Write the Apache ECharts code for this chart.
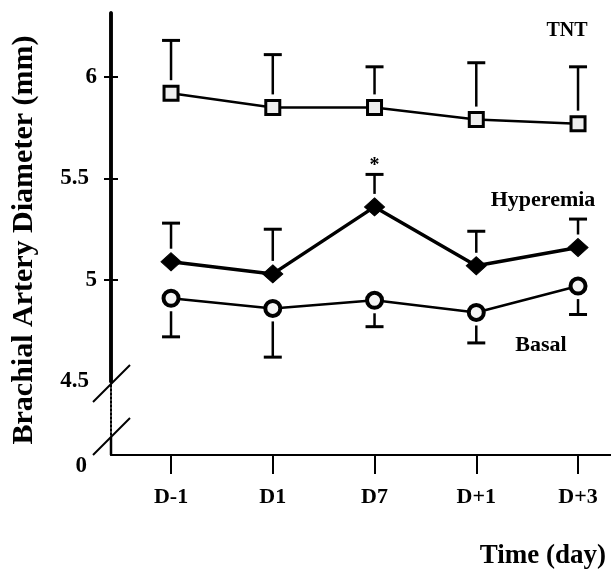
<!DOCTYPE html>
<html>
<head>
<meta charset="utf-8">
<script src="https://cdn.jsdelivr.net/npm/echarts@6/dist/echarts.min.js"></script>
<style>
  html, body { margin: 0; padding: 0; background: #fff; }
  #chart { width: 611px; height: 572px; }
</style>
</head>
<body>
<div id="chart"></div>
<script>
// categories and values
var days = ['D-1', 'D1', 'D7', 'D+1', 'D+3'];
var tntMean = [5.92, 5.85, 5.85, 5.79, 5.77];
var tntTop = [6.18, 6.11, 6.05, 6.07, 6.05];
var hypMean = [5.09, 5.03, 5.36, 5.07, 5.16];
var hypTop = [5.28, 5.25, 5.52, 5.24, 5.30];
var hypSig = ['', '', '*', '', ''];
var basMean = [4.91, 4.86, 4.90, 4.84, 4.97];
var basBottom = [4.72, 4.62, 4.77, 4.69, 4.83];
var yTicks = [5, 5.5, 6];
var yLabels = [4.5, 5, 5.5, 6];

var FONT = "'Liberation Serif', 'Times New Roman', serif";
var idx = days.map(function (d, i) { return i; });

function pairs(vals) {
  return vals.map(function (v, i) { return [i, v]; });
}
function errData(mean, end, sig) {
  return mean.map(function (m, i) { return [i, m, end[i], sig ? sig[i] : '']; });
}

function renderErr(params, api) {
  var x = api.value(0);
  var p0 = api.coord([x, api.value(1)]);
  var p1 = api.coord([x, api.value(2)]);
  var dir = p1[1] < p0[1] ? -1 : 1;
  var st = { stroke: '#000', lineWidth: 2.5 };
  var kids = [
    { type: 'line', shape: { x1: p0[0], y1: p0[1] + dir * 13, x2: p0[0], y2: p1[1] }, style: st },
    { type: 'line', shape: { x1: p0[0] - 9, y1: p1[1], x2: p0[0] + 9, y2: p1[1] }, style: { stroke: '#000', lineWidth: 3 } }
  ];
  var s = api.value(3);
  if (s) {
    kids.push({ type: 'text', x: p0[0], y: p1[1] + 1, style: { text: s, font: 'bold 20px ' + FONT, fill: '#000', align: 'center', verticalAlign: 'bottom' } });
  }
  return { type: 'group', children: kids };
}

var chart = echarts.init(document.getElementById('chart'));
var xMin = -0.59, xMax = 4.324;

var tickAxisBase = {
  type: 'value', gridIndex: 0, min: 4.5, max: 6.315, position: 'left',
  splitLine: { show: false },
  axisLine: { show: true, onZero: false, lineStyle: { color: '#000', width: 3.5 } }
};

chart.setOption({
  animation: false,
  backgroundColor: '#fff',
  title: {
    text: 'Time (day)', right: 0, top: 538,
    textStyle: { fontFamily: FONT, fontWeight: 'bold', fontSize: 27, color: '#000' }
  },
  grid: [
    { left: 111, right: 0, top: 13, height: 368.5 },
    { left: 111, right: 0, top: 381.5, height: 73.5 }
  ],
  xAxis: [
    { type: 'value', gridIndex: 0, min: xMin, max: xMax, show: false },
    {
      type: 'value', gridIndex: 1, min: xMin, max: xMax,
      splitLine: { show: false },
      axisLine: { show: true, onZero: false, lineStyle: { color: '#000', width: 2 } },
      axisTick: { show: true, length: 19, customValues: idx, lineStyle: { color: '#000', width: 2 } },
      axisLabel: {
        customValues: idx, margin: 31,
        formatter: function (v) { return days[v]; },
        fontFamily: FONT, fontWeight: 'bold', fontSize: 22, color: '#000'
      }
    }
  ],
  yAxis: [
    Object.assign({}, tickAxisBase, {
      axisTick: { show: true, length: 7, customValues: yTicks, lineStyle: { color: '#000', width: 2 } },
      axisLabel: {
        customValues: yLabels, margin: 14,
        formatter: function (v) { return Number.isInteger(v) ? '{i|' + v + '}' : '{d|' + v + '}'; },
        rich: {
          i: { fontFamily: FONT, fontWeight: 'bold', fontSize: 23, color: '#000' },
          d: { fontFamily: FONT, fontWeight: 'bold', fontSize: 23, color: '#000', padding: [0, 8, 0, 0] }
        }
      }
    }),
    // same axis again, ticks turned inward, for the right half of the crosses
    Object.assign({}, tickAxisBase, {
      axisLabel: { show: false },
      axisTick: { show: true, inside: true, length: 7, customValues: yTicks, lineStyle: { color: '#000', width: 2 } }
    }),
    {
      type: 'value', gridIndex: 1, min: 0, max: 1, position: 'left',
      splitLine: { show: false },
      axisLine: { show: true, onZero: false, lineStyle: { color: '#000', width: 2, type: [2, 2] } },
      axisTick: { show: false },
      axisLabel: {
        customValues: [0], margin: 24, verticalAlign: 'top',
        fontFamily: FONT, fontWeight: 'bold', fontSize: 23, color: '#000'
      }
    }
  ],
  graphic: [
    { type: 'line', shape: { x1: 111, y1: 437, x2: 111, y2: 455 }, style: { stroke: '#000', lineWidth: 2.5 } },
    { type: 'line', shape: { x1: 93, y1: 402, x2: 130, y2: 365 }, style: { stroke: '#000', lineWidth: 2 } },
    { type: 'line', shape: { x1: 93, y1: 455, x2: 130, y2: 418 }, style: { stroke: '#000', lineWidth: 2 } },
    {
      type: 'text', x: 24, y: 240, rotation: Math.PI / 2,
      style: { text: 'Brachial Artery Diameter (mm)', font: 'bold 30px ' + FONT, fill: '#000', align: 'center', verticalAlign: 'middle' }
    },
    { type: 'text', x: 567, y: 31, style: { text: 'TNT', font: 'bold 20px ' + FONT, fill: '#000', align: 'center', verticalAlign: 'middle' } },
    { type: 'text', x: 543, y: 200, style: { text: 'Hyperemia', font: 'bold 22px ' + FONT, fill: '#000', align: 'center', verticalAlign: 'middle' } },
    { type: 'text', x: 541, y: 345, style: { text: 'Basal', font: 'bold 22px ' + FONT, fill: '#000', align: 'center', verticalAlign: 'middle' } }
  ],
  series: [
    // error bars sit on the twin y axis (identical scale)
    { type: 'custom', xAxisIndex: 0, yAxisIndex: 1, renderItem: renderErr, data: errData(tntMean, tntTop), z: 1 },
    { type: 'custom', xAxisIndex: 0, yAxisIndex: 1, renderItem: renderErr, data: errData(hypMean, hypTop, hypSig), z: 1 },
    { type: 'custom', xAxisIndex: 0, yAxisIndex: 1, renderItem: renderErr, data: errData(basMean, basBottom), z: 1 },
    {
      name: 'TNT', type: 'line', xAxisIndex: 0, yAxisIndex: 0, data: pairs(tntMean), z: 3,
      symbol: 'rect', symbolSize: 14,
      lineStyle: { color: '#000', width: 2.5 },
      itemStyle: { color: '#eeeeee', borderColor: '#000', borderWidth: 3 }
    },
    {
      name: 'Hyperemia', type: 'line', xAxisIndex: 0, yAxisIndex: 0, data: pairs(hypMean), z: 3,
      symbol: 'diamond', symbolSize: [20, 18],
      lineStyle: { color: '#000', width: 3.5 },
      itemStyle: { color: '#000', borderColor: '#000', borderWidth: 1 }
    },
    {
      name: 'Basal', type: 'line', xAxisIndex: 0, yAxisIndex: 0, data: pairs(basMean), z: 3,
      symbol: 'circle', symbolSize: 15,
      lineStyle: { color: '#000', width: 2.5 },
      itemStyle: { color: '#f4f4f4', borderColor: '#000', borderWidth: 4 }
    }
  ]
});
</script>
</body>
</html>
